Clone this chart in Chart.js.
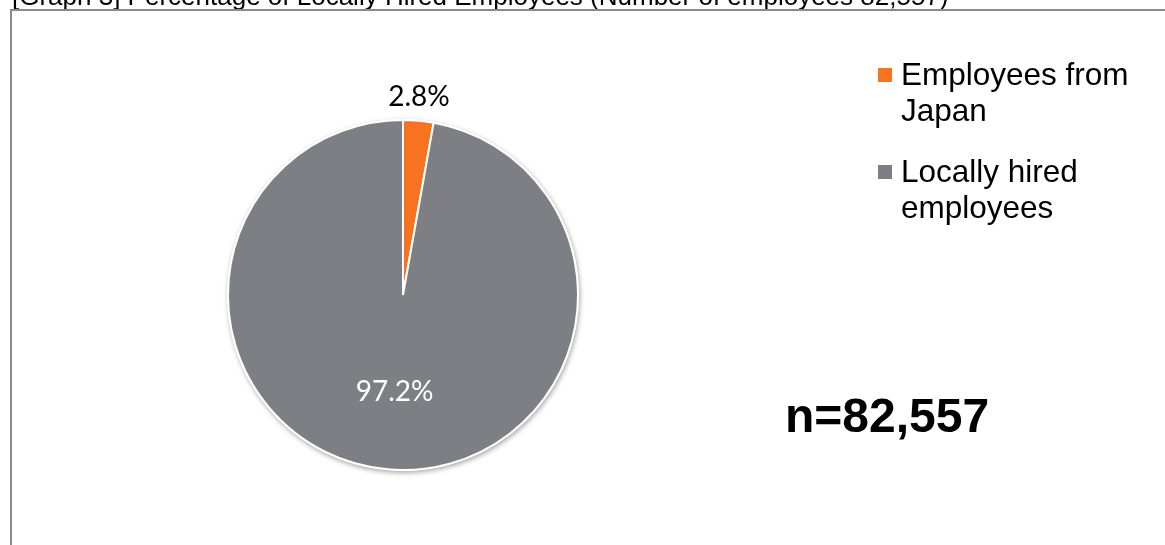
<!DOCTYPE html>
<html>
<head>
<meta charset="utf-8">
<script src="https://cdn.jsdelivr.net/npm/chart.js@4/dist/chart.umd.min.js"></script>
<style>
  html, body { margin: 0; padding: 0; background: #ffffff; overflow: hidden; }
  #wrap { position: relative; width: 1165px; height: 545px; }
  canvas { display: block; }
</style>
</head>
<body>
<div id="wrap"><canvas id="c" width="1165" height="545"></canvas></div>
<script>
// ---- data ----
const TITLE = '[Graph 3] Percentage of Locally Hired Employees (Number of employees 82,557)';
const CATEGORIES = ['Employees from Japan', 'Locally hired employees'];
const SHARES = [2.8, 97.2];
const COLORS = ['#F6731F', '#7E7F84'];
const N_TOTAL = 82557;

// ---- plugins ----
const shadowPlugin = {
  id: 'pieShadow',
  beforeDatasetsDraw(chart) {
    const meta = chart.getDatasetMeta(0);
    const a = meta.data[0];
    if (!a) return;
    const ctx = chart.ctx;
    ctx.save();
    ctx.shadowColor = 'rgba(0,0,0,0.35)';
    ctx.shadowBlur = 5;
    ctx.shadowOffsetX = 1;
    ctx.shadowOffsetY = 2;
    ctx.beginPath();
    ctx.arc(a.x, a.y, a.outerRadius + 1, 0, Math.PI * 2);
    ctx.fillStyle = '#ffffff';
    ctx.fill();
    ctx.restore();
  }
};

const labelPlugin = {
  id: 'sliceLabels',
  afterDatasetsDraw(chart) {
    const ctx = chart.ctx;
    const meta = chart.getDatasetMeta(0);
    const values = chart.data.datasets[0].data;
    ctx.save();
    ctx.font = '28px Lato, "Open Sans", sans-serif';
    ctx.textAlign = 'center';
    ctx.textBaseline = 'alphabetic';
    meta.data.forEach((arc, i) => {
      const mid = (arc.startAngle + arc.endAngle) / 2;
      const small = values[i] < 5;
      const r = small ? arc.outerRadius * 1.14 : arc.outerRadius * 0.55;
      const x = arc.x + Math.cos(mid) * r - (small ? 1.5 : 0);
      const y = arc.y + Math.sin(mid) * r;
      ctx.fillStyle = small ? '#000000' : '#ffffff';
      ctx.fillText(values[i].toFixed(1) + '%', x, y + 10);
    });
    ctx.restore();
  }
};

function wrapText(ctx, text, maxW) {
  const words = text.split(' ');
  const lines = [];
  let cur = '';
  words.forEach(w => {
    const t = cur ? cur + ' ' + w : w;
    if (ctx.measureText(t).width > maxW && cur) { lines.push(cur); cur = w; }
    else cur = t;
  });
  if (cur) lines.push(cur);
  return lines;
}

const decorPlugin = {
  id: 'decor',
  afterDraw(chart) {
    const ctx = chart.ctx;
    const ds = chart.data.datasets[0];
    ctx.save();
    // legend
    ctx.font = '31.5px "Liberation Sans", Arial, sans-serif';
    ctx.textAlign = 'left';
    ctx.textBaseline = 'alphabetic';
    let base = 85;
    chart.data.labels.forEach((lab, i) => {
      ctx.fillStyle = ds.backgroundColor[i];
      ctx.fillRect(878, base - 17, 14, 14);
      ctx.fillStyle = '#000000';
      const lines = wrapText(ctx, lab, 255);
      lines.forEach((ln, k) => ctx.fillText(ln, 901, base + k * 36));
      base += (lines.length - 1) * 36 + 61;
    });
    // n label
    ctx.font = 'bold 48px "Liberation Sans", Arial, sans-serif';
    ctx.fillStyle = '#000000';
    ctx.fillText('n=' + N_TOTAL.toLocaleString('en-US'), 785, 432);
    // title (partly clipped at top)
    ctx.font = '26px "Liberation Sans", Arial, sans-serif';
    ctx.fillText(TITLE, 12, 5);
    // frame
    ctx.strokeStyle = '#8A8A8A';
    ctx.lineWidth = 2;
    ctx.beginPath();
    ctx.moveTo(11, 600);
    ctx.lineTo(11, 10);
    ctx.lineTo(1200, 10);
    ctx.stroke();
    ctx.restore();
  }
};

new Chart(document.getElementById('c'), {
  type: 'pie',
  data: {
    labels: CATEGORIES,
    datasets: [{
      data: SHARES,
      backgroundColor: COLORS,
      borderColor: '#ffffff',
      borderWidth: 2
    }]
  },
  options: {
    responsive: false,
    animation: false,
    layout: { padding: { left: 227, right: 586, top: 119, bottom: 74 } },
    plugins: {
      legend: { display: false },
      tooltip: { enabled: false },
      title: { display: false }
    }
  },
  plugins: [shadowPlugin, labelPlugin, decorPlugin]
});
</script>
</body>
</html>
